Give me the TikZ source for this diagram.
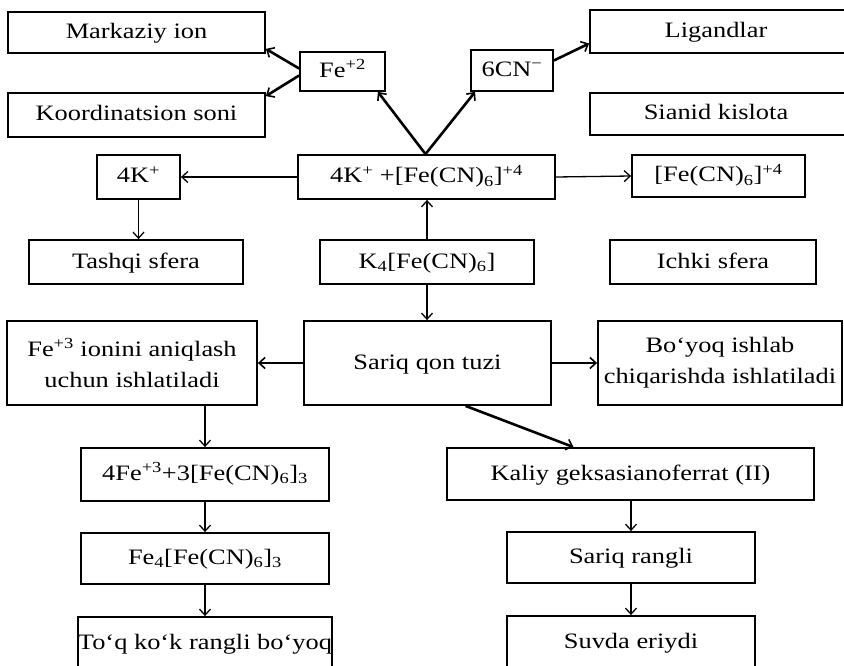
\documentclass[tikz,border=0pt]{standalone}
\usepackage{fontspec}
\setmainfont[FakeStretch=1.2]{Liberation Serif}
\usetikzlibrary{arrows.meta,calc}
\tikzset{
  box/.style={draw, line width=1.8pt, inner sep=0pt, font=\fontsize{22}{31}\selectfont, align=center},
  sl/.style={text height=17pt, text depth=5pt},
  thin arrow/.style={line width=1.3pt, -{Straight Barb[length=6pt,width=11pt,line width=1.3pt]}},
  thick arrow/.style={line width=2.6pt, -{Straight Barb[length=6pt,width=11pt,line width=1.6pt]}},
}
\begin{document}
\begin{tikzpicture}[x=1pt,y=-1pt]
\useasboundingbox (0,0) rectangle (844,666);
\clip (0,0) rectangle (844,666);
% top rows
\node[box, sl, minimum width=257pt, minimum height=41pt] (mark) at (136.5,32.5) {Markaziy ion};
\node[box, sl, minimum width=257pt, minimum height=44pt] (koord) at (136.5,115) {Koordinatsion soni};
\node[box, sl, minimum width=85pt, minimum height=39pt] (fe2) at (342.5,71.5) {Fe\textsuperscript{+2}};
\node[box, sl, minimum width=82pt, minimum height=41pt] (cn) at (512,70.5) {6CN\textsuperscript{−}};
\node[box, sl, minimum width=262pt, minimum height=43pt] (lig) at (721,31.5) {\hspace*{-10pt}Ligandlar};
\node[box, sl, minimum width=262pt, minimum height=42pt] (sian) at (721,114) {\hspace*{-10pt}Sianid kislota};
% second row
\node[box, sl, minimum width=83pt, minimum height=44pt] (k4p) at (138.5,177) {4K\textsuperscript{+}};
\node[box, sl, minimum width=257pt, minimum height=44pt] (cent) at (426.5,177) {4K\textsuperscript{+} +[Fe(CN)\textsubscript{6}]\textsuperscript{+4}};
\node[box, sl, minimum width=173pt, minimum height=42pt] (fecn) at (718.5,176) {[Fe(CN)\textsubscript{6}]\textsuperscript{+4}};
% third row
\node[box, sl, minimum width=214pt, minimum height=44pt] (tash) at (136,262) {Tashqi sfera};
\node[box, sl, minimum width=214pt, minimum height=44pt] (k4) at (427,262) {K\textsubscript{4}[Fe(CN)\textsubscript{6}]};
\node[box, sl, minimum width=206pt, minimum height=44pt] (ichki) at (713,262) {Ichki sfera};
% fourth row
\node[box, minimum width=250pt, minimum height=84pt] (fe3) at (132,363) {Fe\textsuperscript{+3} ionini aniqlash\\uchun ishlatiladi};
\node[box, sl, minimum width=247pt, minimum height=84pt] (sariq) at (427.5,363) {Sariq qon tuzi};
\node[box, minimum width=244pt, minimum height=84pt] (boyoq) at (720,363) {Bo‘yoq ishlab\\chiqarishda ishlatiladi};
% left column
\node[box, sl, minimum width=248pt, minimum height=53pt] (fe4a) at (205,474.5) {4Fe\textsuperscript{+3}+3[Fe(CN)\textsubscript{6}]\textsubscript{3}};
\node[box, sl, minimum width=248pt, minimum height=51pt] (fe4b) at (205,558.5) {Fe\textsubscript{4}[Fe(CN)\textsubscript{6}]\textsubscript{3}};
\node[box, sl, minimum width=248pt, minimum height=52pt] (toq) at (205,643) {To‘q ko‘k rangli bo‘yoq};
% right column
\node[box, sl, minimum width=367pt, minimum height=52pt] (kaliy) at (630.5,474) {Kaliy geksasianoferrat (II)};
\node[box, sl, minimum width=248pt, minimum height=51pt] (sr) at (631,557.5) {Sariq rangli};
\node[box, sl, minimum width=248pt, minimum height=52pt] (suv) at (631,642) {Suvda eriydi};
% connectors
\draw[thick arrow] ([yshift=3pt]fe2.west) -- ([yshift=5pt]mark.south east);
\draw[thick arrow] ([yshift=-4pt]fe2.west) -- ([yshift=-4pt]koord.north east);
\draw[thick arrow] ([xshift=-1pt]cent.north) -- ([xshift=-8pt]fe2.south east);
\draw[thick arrow] ([xshift=-1pt]cent.north) -- ([xshift=5pt]cn.south west);
\draw[thick arrow] ([yshift=10pt]cn.east) -- ([yshift=-12pt]lig.west);
\draw[thin arrow] (cent.west) -- (k4p.east);
\draw[thin arrow] (cent.east) -- (fecn.west);
\draw[thin arrow] (k4p.south) -- (k4p.south |- tash.north);
\draw[thin arrow] (k4.north) -- (k4.north |- cent.south);
\draw[thin arrow] (k4.south) -- (k4.south |- sariq.north);
\draw[thick arrow] (sariq.west) -- (fe3.east);
\draw[thick arrow] (sariq.east) -- (boyoq.west);
\draw[thick arrow] ([xshift=38pt]sariq.south) -- ([xshift=-57pt]kaliy.north);
\draw[thin arrow] (fe4a.north |- fe3.south) -- (fe4a.north);
\draw[thin arrow] (fe4a.south) -- (fe4b.north);
\draw[thin arrow] (fe4b.south) -- (toq.north);
\draw[thin arrow] (kaliy.south -| sr.north) -- (sr.north);
\draw[thin arrow] (sr.south) -- (suv.north);
\end{tikzpicture}
\end{document}
